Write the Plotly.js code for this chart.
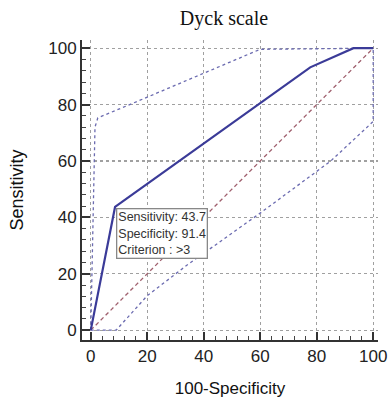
<!DOCTYPE html>
<html>
<head>
<meta charset="utf-8">
<script src="https://cdn.plot.ly/plotly-3.0.1.min.js"></script>
<style>html,body{margin:0;padding:0;background:#fff;}#chart{width:389px;height:398px;}</style>
</head>
<body>
<div id="chart"></div>
<script>
// ROC curve (100-Specificity vs Sensitivity)
const rocX = [0, 8.6, 77.7, 93, 100];
const rocY = [0, 43.7, 93.2, 100, 100];
// Upper confidence bound
const upperX = [0, 1.5, 2.5, 13.8, 60, 100];
const upperY = [0, 72, 75.3, 80, 99.6, 100];
// Lower confidence bound
const lowerX = [0, 9, 20, 34, 60, 85, 100, 100];
const lowerY = [0, 0, 12.2, 23, 41.5, 60, 74, 100];
// Reference diagonal
const diagX = [0, 100];
const diagY = [0, 100];
// Optimal criterion point
const bestSens = 43.7;
const bestSpec = 91.4;
const bestCrit = '>3';
const tickVals = [0, 20, 40, 60, 80, 100];

const font = 'Liberation Sans, Arial, sans-serif';

const traces = [
  {x: diagX, y: diagY, mode: 'lines', line: {color: '#a0606e', width: 1.3, dash: '4px,3px'}, hoverinfo: 'skip'},
  {x: upperX, y: upperY, mode: 'lines', line: {color: '#6b6bb0', width: 1.3, dash: '3px,3px'}, hoverinfo: 'skip'},
  {x: lowerX, y: lowerY, mode: 'lines', line: {color: '#6b6bb0', width: 1.3, dash: '3px,3px'}, hoverinfo: 'skip'},
  {x: rocX, y: rocY, mode: 'lines', line: {color: '#3b3b98', width: 2.2}, hoverinfo: 'skip'}
];

function axis(title) {
  return {
    title: {text: title, font: {family: font, size: 17, color: '#111'}},
    tickmode: 'array', tickvals: tickVals, ticktext: tickVals.map(String),
    tickfont: {family: font, size: 17, color: '#222'},
    ticks: 'inside', ticklen: 8, tickwidth: 2, tickcolor: '#333',
    showline: true, linecolor: '#333', linewidth: 2,
    showgrid: true, gridcolor: '#a0a0a0', griddash: 'dot', gridwidth: 1.2,
    zeroline: false,
    minor: {dtick: 4, tick0: 0, ticks: 'inside', ticklen: 4, tickwidth: 1, tickcolor: '#444', showgrid: false},
    fixedrange: true
  };
}

const xa = axis('100-Specificity');
xa.range = [-3.1, 101.7];
const ya = axis('Sensitivity');
ya.range = [-3.5, 102.9];
ya.title.standoff = 20;
ya.title.font.size = 18;

const layout = {
  width: 389, height: 398,
  margin: {l: 82, r: 11, t: 40, b: 58},
  paper_bgcolor: '#fff', plot_bgcolor: '#fff',
  showlegend: false,
  title: {text: 'Dyck scale', font: {family: 'Liberation Serif, Times New Roman, serif', size: 20, color: '#111'},
          xref: 'container', x: 224/389, xanchor: 'center', yref: 'container', y: 1 - 18/398, yanchor: 'middle'},
  xaxis: xa, yaxis: ya,
  annotations: [{
    x: 100 - bestSpec, y: bestSens, xref: 'x', yref: 'y',
    xanchor: 'left', yanchor: 'top', xshift: 1, yshift: -1,
    text: 'Sensitivity: ' + bestSens + '<br>Specificity: ' + bestSpec + '<br>Criterion : ' + bestCrit.replace('>', '&gt;'),
    align: 'left', showarrow: false,
    font: {family: font, size: 12.5, color: '#333'},
    bgcolor: '#fff', bordercolor: '#888', borderwidth: 1.3, borderpad: 1
  }]
};

Plotly.newPlot('chart', traces, layout, {displayModeBar: false, staticPlot: true});
</script>
</body>
</html>
